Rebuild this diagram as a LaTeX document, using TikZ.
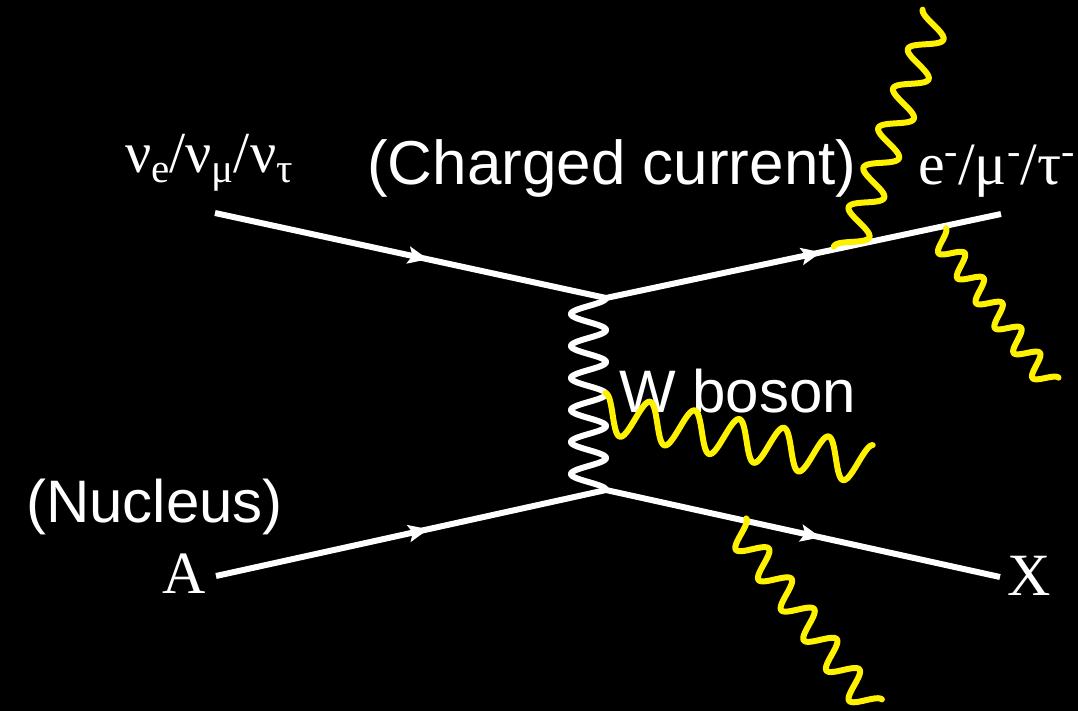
\documentclass[tikz,border=0pt]{standalone}
\usepackage{fontspec}
\setmainfont{Liberation Serif}
\setsansfont{Liberation Sans}
\usetikzlibrary{calc,decorations.markings,arrows.meta}
\newcommand\wavyline[5]{% style, axis start, axis end, amplitude, periods
  \draw[#1] let \p1=(#2), \p2=(#3), \n1={veclen(\x2-\x1,\y2-\y1)} in
    plot[domain=0:1,samples=400,variable=\t]
    ({\x1+\t*(\x2-\x1)-#4*cos(360*#5*\t)*(\y2-\y1)/\n1},
     {\y1+\t*(\y2-\y1)+#4*cos(360*#5*\t)*(\x2-\x1)/\n1});
}
\begin{document}
\begin{tikzpicture}[x=1pt,y=-1pt,
  fermion/.style={white,line width=6pt,postaction={decorate},
    decoration={markings,mark=at position 0.545 with {\arrow{Stealth[length=20pt,width=17pt,inset=4pt]}}}},
  wline/.style={white,line width=6pt,line join=round},
  photon/.style={yellow,line width=6pt,line cap=round,line join=round},
  lbl/.style={text=white,inner sep=0pt,anchor=base west},
  sanslbl/.style={lbl,font=\sffamily\fontsize{60}{60}\selectfont},
  seriflbl/.style={lbl,font=\fontsize{60}{60}\selectfont}]
\path[fill=black,use as bounding box] (0,0) rectangle (1078,711);
% vertices and free ends
\coordinate (v1) at (606,298);
\coordinate (v2) at (606,490);
\coordinate (nu) at (215,213);
\coordinate (lep) at (1001,214);
\coordinate (A) at (216,576);
\coordinate (X) at (1000,577);
% fermion lines
\draw[fermion] (nu) -- (v1);
\draw[fermion] (v1) -- (lep);
\draw[fermion] (A) -- (v2);
\draw[fermion] (v2) -- (X);
% W boson
\coordinate (w1) at ($(v1)+(-17.5,0)$);
\coordinate (w2) at ($(v2)+(-17.5,0)$);
\wavyline{wline}{w1}{w2}{17.5}{6}
% labels
\node[seriflbl,font=\fontsize{58}{58}\selectfont] (nulbl) at (125,173) {ν\lower10pt\hbox{\fontsize{41}{41}\selectfont e}/ν\lower10pt\hbox{\fontsize{41}{41}\selectfont μ}/ν\lower10pt\hbox{\fontsize{41}{41}\selectfont τ}};
\node[sanslbl,font=\sffamily\fontsize{62}{62}\selectfont] (cc) at (367,185) {(Charged current)};
\node[seriflbl] (leplbl) at (918,185) {e\raise20pt\hbox{\fontsize{40}{40}\selectfont -}/μ\raise20pt\hbox{\fontsize{40}{40}\selectfont -}/τ\raise20pt\hbox{\fontsize{40}{40}\selectfont -}};
\node[sanslbl] (wlbl) at (619,412) {W boson};
\node[sanslbl] (nuc) at (26,522) {(Nucleus)};
\node[seriflbl] (albl) at (162,593) {A};
\node[seriflbl] (xlbl) at (1007,595) {X};
% radiated photons
\coordinate (p1a) at (847.9,251.8); \coordinate (p1b) at (936.8,14.6);
\coordinate (p2a) at (937.5,234.4); \coordinate (p2b) at (1050.3,384.2);
\coordinate (p3a) at (601.5,412.7); \coordinate (p3b) at (869.3,464.8);
\coordinate (p4a) at (735.4,526.5); \coordinate (p4b) at (871.3,707.8);
\wavyline{photon}{p1a}{p1b}{15}{6}
\wavyline{photon}{p2a}{p2b}{10.5}{6}
\wavyline{photon}{p3a}{p3b}{20}{6}
\wavyline{photon}{p4a}{p4b}{13.5}{6}
\end{tikzpicture}
\end{document}
